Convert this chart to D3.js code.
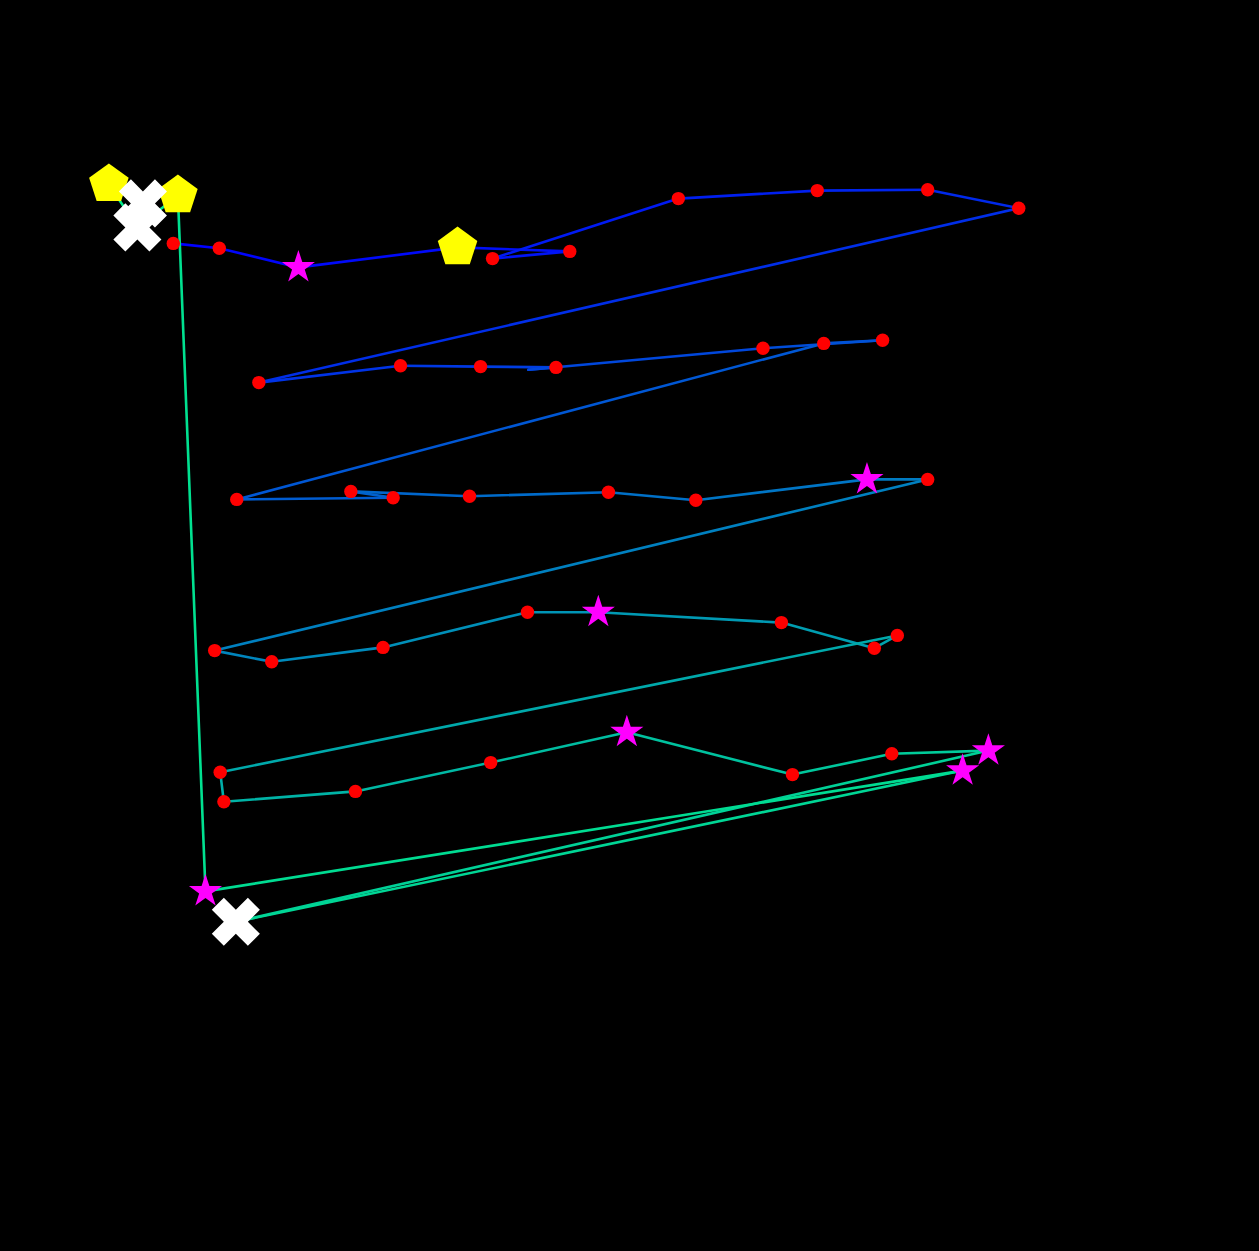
<!DOCTYPE html>
<html>
<head>
<meta charset="utf-8">
<script src="https://cdn.jsdelivr.net/npm/d3@7"></script>
<style>
  html, body { margin: 0; padding: 0; background: #000; }
  svg { display: block; }
</style>
</head>
<body>
<script>
// Sequence of visited points (data units), in path order
const xs = [0.79, 1.29, 2.15, 3.88, 5.10, 4.26, 6.28, 7.79, 8.99, 9.98,
            1.72, 3.26, 4.13, 4.95, 4.65, 7.20, 8.50, 7.86,
            1.48, 3.18, 2.72, 4.01, 5.52, 6.47, 8.33, 8.99,
            1.24, 1.86, 3.07, 4.64, 5.41, 7.40, 8.41, 8.66,
            1.30, 1.34, 2.77, 4.24, 5.72, 7.52, 8.60, 9.65,
            1.47, 9.37, 1.14, 0.84, 0.40, 0.09, 0.46];
const ys = [8.84, 8.78, 8.54, 8.79, 8.74, 8.65, 9.40, 9.50, 9.51, 9.28,
            7.10, 7.31, 7.30, 7.29, 7.26, 7.53, 7.63, 7.59,
            5.64, 5.66, 5.74, 5.68, 5.73, 5.63, 5.89, 5.89,
            3.75, 3.61, 3.79, 4.23, 4.23, 4.10, 3.78, 3.94,
            2.23, 1.86, 1.99, 2.35, 2.73, 2.20, 2.46, 2.50,
            0.36, 2.25, 0.74, 9.44, 9.04, 9.58, 9.34];
const markers = ["dot","dot","star","pentagon","dot","dot","dot","dot","dot","dot",
                 "dot","dot","dot","dot","none","dot","dot","dot",
                 "dot","dot","dot","dot","dot","dot","star","dot",
                 "dot","dot","dot","dot","star","dot","dot","dot",
                 "dot","dot","dot","dot","star","dot","dot","star",
                 "cross","star","star","pentagon","cross","pentagon","cross"];

const W = 1259, H = 1251;
const svg = d3.select("body").append("svg").attr("width", W).attr("height", H)
  .style("background", "#000");

const x = d3.scaleLinear().domain([0, 10]).range([100.6, 1020.6]);
const y = d3.scaleLinear().domain([0, 10]).range([950.6, 150.6]);

const pts = xs.map((v, i) => ({x: v, y: ys[i], m: markers[i], i}));
const color = d3.scaleLinear().domain([0, pts.length - 2])
  .range(["#0000ff", "#00f088"]).interpolate(d3.interpolateRgb);

const segs = d3.pairs(pts);
svg.append("g").selectAll("line").data(segs).join("line")
  .attr("x1", d => x(d[0].x)).attr("y1", d => y(d[0].y))
  .attr("x2", d => x(d[1].x)).attr("y2", d => y(d[1].y))
  .attr("stroke", (d, i) => color(i))
  .attr("stroke-width", 2.6)
  .attr("stroke-linecap", "round");

const pentagon = {
  draw(ctx, size) {
    const r = Math.sqrt(size);
    for (let k = 0; k < 5; k++) {
      const a = -Math.PI / 2 + k * 2 * Math.PI / 5;
      const px = r * Math.cos(a), py = r * Math.sin(a);
      if (k === 0) ctx.moveTo(px, py); else ctx.lineTo(px, py);
    }
    ctx.closePath();
  }
};

const g = svg.append("g");
g.selectAll("circle.dot").data(pts.filter(d => d.m === "dot")).join("circle")
  .attr("class", "dot")
  .attr("cx", d => x(d.x)).attr("cy", d => y(d.y)).attr("r", 6.7)
  .attr("fill", "#ff0000");

g.selectAll("path.star").data(pts.filter(d => d.m === "star")).join("path")
  .attr("class", "star")
  .attr("d", d3.symbol(d3.symbolStar, 340))
  .attr("transform", d => `translate(${x(d.x)},${y(d.y)})`)
  .attr("fill", "#ff00ff");

g.selectAll("path.pent").data(pts.filter(d => d.m === "pentagon")).join("path")
  .attr("class", "pent")
  .attr("d", d3.symbol(pentagon, 20.8 * 20.8))
  .attr("transform", d => `translate(${x(d.x)},${y(d.y)})`)
  .attr("fill", "#ffff00");

g.selectAll("path.cross").data(pts.filter(d => d.m === "cross")).join("path")
  .attr("class", "cross")
  .attr("d", d3.symbol(d3.symbolCross, 1445))
  .attr("transform", d => `translate(${x(d.x)},${y(d.y)}) rotate(45)`)
  .attr("fill", "#ffffff");
</script>
</body>
</html>
